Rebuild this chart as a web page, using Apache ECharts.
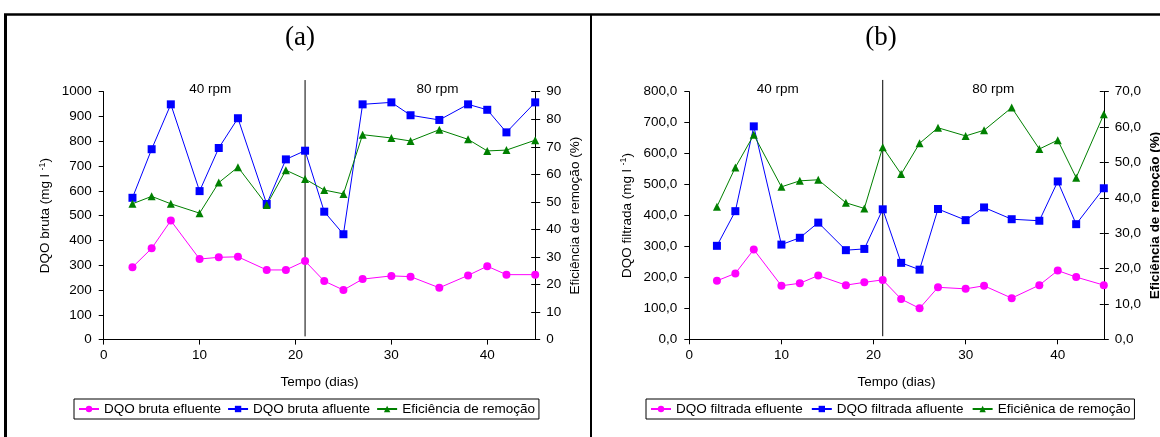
<!DOCTYPE html>
<html>
<head>
<meta charset="utf-8">
<script src="https://cdn.jsdelivr.net/npm/echarts@6/dist/echarts.min.js"></script>
<style>
  html, body { margin: 0; padding: 0; background: #fff; }
  #main { width: 1160px; height: 437px; }
</style>
</head>
<body>
<div id="main"></div>
<script>
// dias de operação (eixo x comum)
var days = [3, 5, 7, 10, 12, 14, 17, 19, 21, 23, 25, 27, 30, 32, 35, 38, 40, 42, 45];

// (a) DQO bruta
var brutaEfluente = [292, 368, 480, 325, 332, 334, 281, 281, 317, 236, 200, 244, 257, 254, 209, 259, 296, 262, 262];
var brutaAfluente = [572, 768, 949, 599, 773, 893, 547, 727, 762, 516, 425, 949, 957, 905, 886, 949, 927, 836, 957];
var eficienciaA = [49.3, 52.0, 49.3, 45.9, 57.0, 62.6, 48.9, 61.5, 58.3, 54.3, 52.9, 74.4, 73.2, 72.1, 76.2, 72.7, 68.5, 68.8, 72.4];

// (b) DQO filtrada
var filtradaEfluente = [189, 213, 290, 173, 181, 206, 175, 184, 192, 130, 100, 168, 163, 173, 133, 175, 222, 201, 175];
var filtradaAfluente = [302, 414, 688, 306, 328, 377, 288, 292, 420, 247, 225, 421, 385, 426, 388, 383, 510, 372, 488];
var eficienciaB = [37.5, 48.6, 57.8, 43.1, 44.8, 45.1, 38.6, 37.0, 54.3, 46.7, 55.4, 59.8, 57.5, 59.1, 65.5, 53.8, 56.3, 45.7, 63.6];

// mudança de rotação (dia 21) e rótulos das fases
var changeDay = 21;
var rpmLabels = ['40 rpm', '80 rpm'];
var rpmDaysA = [11.1, 34.8];
var rpmDaysB = [9.6, 33.0];

var namesA = ['DQO bruta efluente', 'DQO bruta afluente', 'Eficiência de remoção'];
var namesB = ['DQO filtrada efluente', 'DQO filtrada afluente', 'Eficiênica de remoção'];

var FONT = 'Liberation Sans, Arial, sans-serif';
var comma = function (v) { return v.toFixed(1).replace('.', ','); };
var plain = function (v) { return String(v); };

function pairs(ys) {
  return days.map(function (d, i) { return [d, ys[i]]; });
}

function mkSeries(name, ys, xi, yi, color, symbol) {
  return {
    name: name, type: 'line', xAxisIndex: xi, yAxisIndex: yi,
    data: pairs(ys), symbol: symbol, symbolSize: 8,
    lineStyle: { color: color, width: 1 },
    itemStyle: { color: color },
    animation: false
  };
}

function xAx(gi) {
  return {
    gridIndex: gi, type: 'value', min: 0, max: 45, interval: 10,
    name: 'Tempo (dias)', nameLocation: 'middle', nameGap: 36,
    nameTextStyle: { fontSize: 13.5, color: '#000' },
    axisLine: { lineStyle: { color: '#000', width: 1 } },
    axisTick: { inside: false, length: 5, lineStyle: { color: '#000' } },
    axisLabel: { fontSize: 13.5, color: '#000', margin: 9, showMaxLabel: false, formatter: plain },
    splitLine: { show: false }
  };
}

function yAx(gi, pos, max, interval, opts) {
  var a = {
    gridIndex: gi, type: 'value', position: pos, min: 0, max: max, interval: interval,
    axisLine: { show: true, lineStyle: { color: '#000', width: 1 } },
    axisTick: { show: true, length: 5, lineStyle: { color: '#000' } },
    axisLabel: { fontSize: 13.5, color: '#000', margin: 12, formatter: plain },
    splitLine: { show: false }
  };
  return Object.assign(a, opts || {});
}

// ticks cruzando o eixo direito
function innerTicks(gi, max, interval) {
  return {
    gridIndex: gi, type: 'value', position: 'right', min: 0, max: max, interval: interval,
    axisLine: { show: false },
    axisTick: { show: true, inside: true, length: 4, lineStyle: { color: '#000' } },
    axisLabel: { show: false },
    splitLine: { show: false }
  };
}

var supRich = { sup: { fontSize: 9, padding: [0, 0, 7, 0] } };

function legendAt(names, left, gap) {
  return {
    data: names, left: left, top: 399, itemWidth: 20, itemHeight: 8, itemGap: gap,
    borderColor: '#000', borderWidth: 1, padding: [3, 4, 3, 4], borderRadius: 0,
    textStyle: { fontSize: 13.5, color: '#000' }
  };
}

var chart = echarts.init(document.getElementById('main'));
chart.setOption({
  backgroundColor: '#fff',
  animation: false,
  textStyle: { fontFamily: FONT },
  grid: [
    { left: 103.7, top: 91.7, width: 431.5, height: 247.9, outerBoundsMode: 'none' },
    { left: 689.3, top: 91.7, width: 414.5, height: 247.6, outerBoundsMode: 'none' }
  ],
  xAxis: [xAx(0), xAx(1)],
  yAxis: [
    yAx(0, 'left', 1000, 100, {
      name: 'DQO bruta (mg l {sup|-1})', nameLocation: 'middle', nameGap: 50, nameRotate: 90,
      nameTextStyle: { fontSize: 13.5, color: '#000', rich: supRich }
    }),
    yAx(0, 'right', 90, 10, {
      name: 'Eficiência de remoção (%)', nameLocation: 'middle', nameGap: 33, nameRotate: 90,
      nameTextStyle: { fontSize: 13.5, color: '#000' },
      axisLabel: { fontSize: 13.5, color: '#000', margin: 11, formatter: plain }
    }),
    innerTicks(0, 90, 10),
    yAx(1, 'left', 800, 100, {
      name: 'DQO filtrada (mg l {sup|-1})', nameLocation: 'middle', nameGap: 54, nameRotate: 90,
      nameTextStyle: { fontSize: 13.5, color: '#000', rich: supRich },
      axisLabel: { fontSize: 13.5, color: '#000', margin: 12, formatter: comma }
    }),
    yAx(1, 'right', 70, 10, {
      name: 'Eficiência de remoção (%)', nameLocation: 'middle', nameGap: 44, nameRotate: 90,
      nameTextStyle: { fontSize: 13.5, color: '#000', fontWeight: 'bold' },
      axisLabel: { fontSize: 13.5, color: '#000', margin: 11, formatter: comma }
    }),
    innerTicks(1, 70, 10)
  ],
  legend: [legendAt(namesA, 74, 6), legendAt(namesB, 646, 8)],
  series: [
    mkSeries(namesA[0], brutaEfluente, 0, 0, '#ff00ff', 'circle'),
    mkSeries(namesA[1], brutaAfluente, 0, 0, '#0000ff', 'rect'),
    mkSeries(namesA[2], eficienciaA, 0, 1, '#008000', 'triangle'),
    mkSeries(namesB[0], filtradaEfluente, 1, 3, '#ff00ff', 'circle'),
    mkSeries(namesB[1], filtradaAfluente, 1, 3, '#0000ff', 'rect'),
    mkSeries(namesB[2], eficienciaB, 1, 4, '#008000', 'triangle')
  ]
});

// linha vertical do dia 21 e rótulos de rotação, via escalas dos eixos
function panelGraphics(seriesIndex, yTop, yBottom, yText, rpmDays) {
  var g = [];
  var p1 = chart.convertToPixel({ seriesIndex: seriesIndex }, [changeDay, yTop]);
  var p2 = chart.convertToPixel({ seriesIndex: seriesIndex }, [changeDay, yBottom]);
  g.push({
    type: 'line', silent: true,
    shape: { x1: p1[0], y1: p1[1], x2: p2[0], y2: p2[1] },
    style: { stroke: '#000', lineWidth: 1 }
  });
  rpmDays.forEach(function (d, i) {
    var p = chart.convertToPixel({ seriesIndex: seriesIndex }, [d, yText]);
    g.push({
      type: 'text', silent: true, x: p[0], y: p[1],
      style: { text: rpmLabels[i], fill: '#000', font: '13.5px ' + FONT, align: 'center', verticalAlign: 'middle' }
    });
  });
  return g;
}

var graphics = []
  .concat(panelGraphics(0, 1047, 13, 1010, rpmDaysA))
  .concat(panelGraphics(3, 838, 10, 808, rpmDaysB));

// moldura e títulos
graphics.push(
  { type: 'line', silent: true, shape: { x1: 4, y1: 14.5, x2: 1160, y2: 14.5 }, style: { stroke: '#000', lineWidth: 2.5 } },
  { type: 'line', silent: true, shape: { x1: 5.5, y1: 14, x2: 5.5, y2: 437 }, style: { stroke: '#000', lineWidth: 3 } },
  { type: 'line', silent: true, shape: { x1: 591, y1: 14, x2: 591, y2: 437 }, style: { stroke: '#000', lineWidth: 2 } },
  { type: 'text', silent: true, x: 300, y: 38, style: { text: '(a)', fill: '#000', font: '27px Liberation Serif, Times New Roman, serif', align: 'center', verticalAlign: 'middle' } },
  { type: 'text', silent: true, x: 881, y: 38, style: { text: '(b)', fill: '#000', font: '27px Liberation Serif, Times New Roman, serif', align: 'center', verticalAlign: 'middle' } }
);

chart.setOption({ graphic: graphics });
</script>
</body>
</html>
